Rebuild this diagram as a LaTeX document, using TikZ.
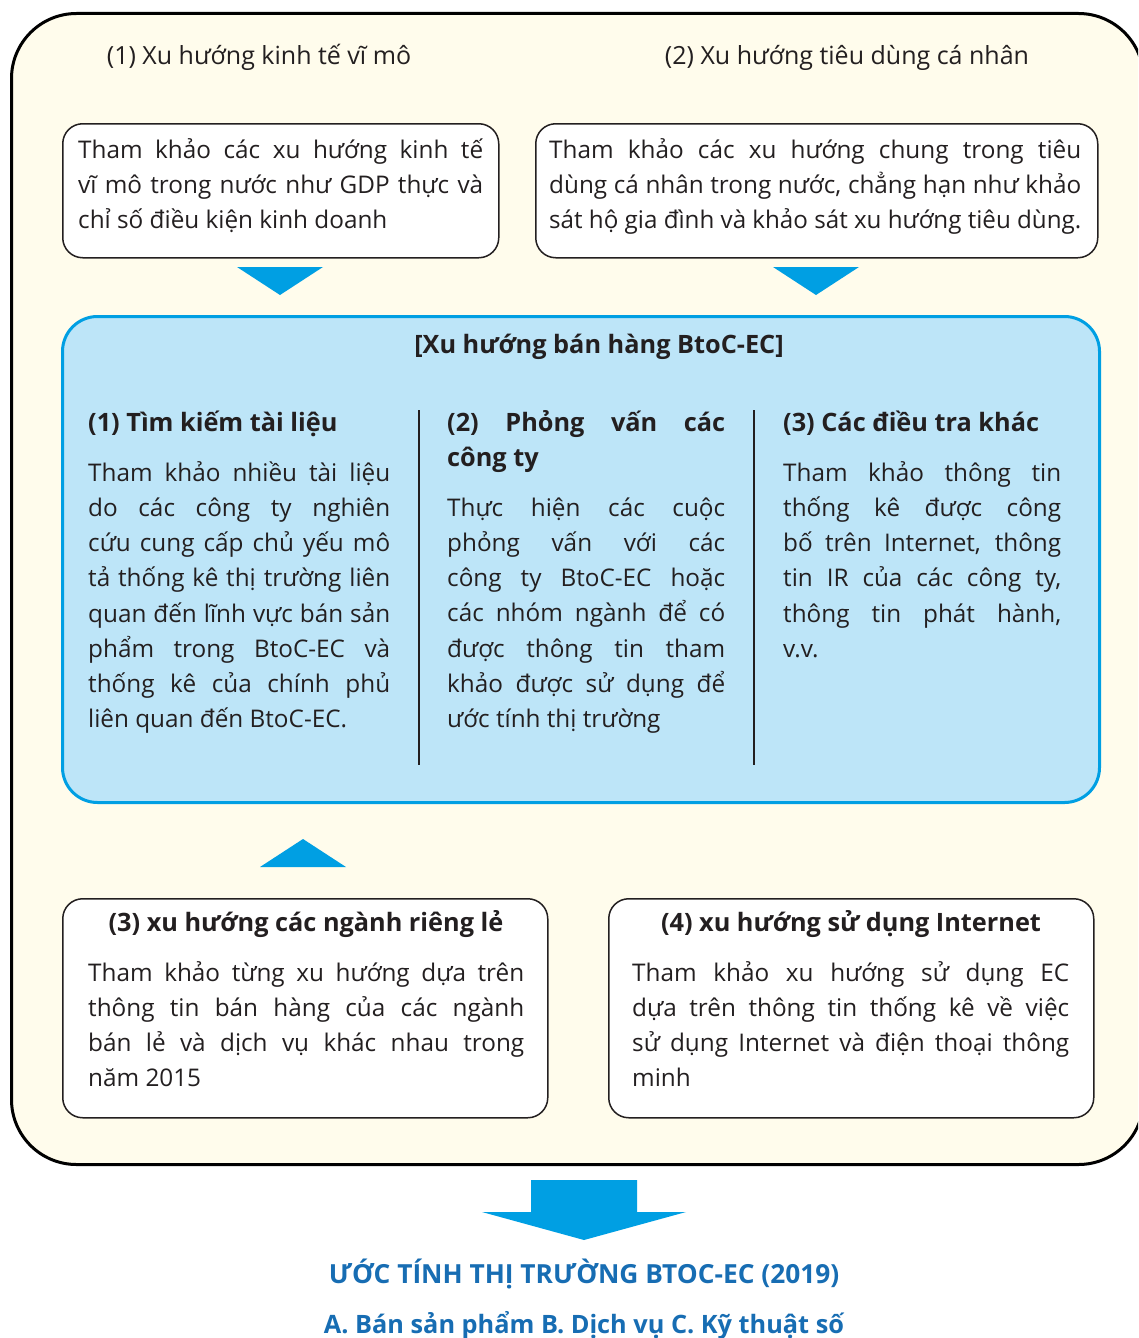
\documentclass[tikz,border=0pt]{standalone}
\usepackage{graphicx}
\usepackage{fontspec}
\setmainfont{Open Sans}
\definecolor{bgY}{HTML}{FFFCEC}
\definecolor{boxBlue}{HTML}{BDE5F8}
\definecolor{lineBlue}{HTML}{009FE3}
\definecolor{titleBlue}{HTML}{176DB3}
\definecolor{ink}{HTML}{231F20}
% justified line: stretched to the width, squeezed if too long
\newcommand\jline[1]{\setbox0\hbox{#1}%
  \ifdim\wd0>\hsize \hbox to\hsize{\resizebox{\hsize}{\height}{\box0}}%
  \else \hbox to\hsize{#1}\fi}
% last line: natural width, squeezed if too long
\newcommand\lline[1]{\setbox0\hbox{#1}%
  \ifdim\wd0>\hsize \hbox to\hsize{\resizebox{\hsize}{\height}{\box0}}%
  \else \hbox to\hsize{#1\hfil}\fi}
\newcommand\para[2]{\vtop{\hsize=#1pt\relax #2}}
\newcommand\bodyfnt{\fontsize{24.3}{35.25}\selectfont}
\newcommand\headfnt{\fontsize{25.3}{35.25}\selectfont\bfseries}
\begin{document}
\begin{tikzpicture}[x=1pt,y=-1pt,
  whitebox/.style={draw=ink, line width=1.5pt, fill=white, rounded corners=20pt, inner sep=0pt, anchor=north west},
  bluebox/.style={draw=lineBlue, line width=3pt, fill=boxBlue, rounded corners=35pt, inner sep=0pt, anchor=north west},
  outerbox/.style={draw=black, line width=3pt, fill=bgY, rounded corners=65pt, inner sep=0pt, anchor=north west},
  body/.style={font=\bodyfnt, text=ink, inner sep=0pt, anchor=base west},
  label/.style={font=\fontsize{25}{30}\selectfont, text=ink, inner sep=0pt, anchor=base},
  head/.style={font=\headfnt, text=ink, inner sep=0pt},
  tri/.style={fill=lineBlue, draw=none},
  divider/.style={draw=ink, line width=1.5pt},
  final/.style={text=titleBlue, inner sep=0pt, anchor=base}
]
\useasboundingbox (0,0) rectangle (1138,1338);
\clip (0,0) rectangle (1138,1338);
\fill[white] (0,0) rectangle (1138,1338);

% outer frame
\node[outerbox, minimum width=1132pt, minimum height=1151pt] (outer) at (10,12) {};

% headers
\node[label] (h1) at (259,64) {(1) Xu hướng kinh tế vĩ mô};
\node[label] (h2) at (847,64) {(2) Xu hướng tiêu dùng cá nhân};

% top boxes
\node[whitebox, minimum width=436pt, minimum height=134pt] (boxA) at (62,123) {};
\node[whitebox, minimum width=562pt, minimum height=134pt] (boxB) at (535,123) {};
\node[body] (tA) at (78,158) {\para{405}{%
\jline{Tham khảo các xu hướng kinh tế}%
\jline{vĩ mô trong nước như GDP thực và}%
\lline{chỉ số điều kiện kinh doanh}}};
\node[body] (tB) at (549,158) {\para{532}{%
\jline{Tham khảo các xu hướng chung trong tiêu}%
\jline{dùng cá nhân trong nước, chẳng hạn như khảo}%
\lline{sát hộ gia đình và khảo sát xu hướng tiêu dùng.}}};

% down triangles
\fill[tri] (237,267) -- (323,267) -- (280,295) -- cycle;
\fill[tri] (773,267) -- (859,267) -- (816,295) -- cycle;

% blue box
\node[bluebox, minimum width=1037pt, minimum height=486pt] (blue) at (61,315) {};
\node[head, anchor=base] (btitle) at (599,353) {[Xu hướng bán hàng BtoC-EC]};

\draw[divider] (419,410) -- (419,765);
\draw[divider] (754,410) -- (754,765);

\node[head, anchor=base west] (c1h) at (88,431) {(1) Tìm kiếm tài liệu};
\node[body] (c1) at (88,481) {\para{302}{%
\jline{Tham khảo nhiều tài liệu}%
\jline{do các công ty nghiên}%
\jline{cứu cung cấp chủ yếu mô}%
\jline{tả thống kê thị trường liên}%
\jline{quan đến lĩnh vực bán sản}%
\jline{phẩm trong BtoC-EC và}%
\jline{thống kê của chính phủ}%
\lline{liên quan đến BtoC-EC.}}};

\node[head, anchor=base west] (c2h) at (447,431) {\para{278}{%
\jline{(2) Phỏng vấn các}%
\lline{công ty}}};
\node[body] (c2) at (447,516) {\para{278}{%
\jline{Thực hiện các cuộc}%
\jline{phỏng vấn với các}%
\jline{công ty BtoC-EC hoặc}%
\jline{các nhóm ngành để có}%
\jline{được thông tin tham}%
\jline{khảo được sử dụng để}%
\lline{ước tính thị trường}}};

\node[head, anchor=base west] (c3h) at (783,431) {(3) Các điều tra khác};
\node[body] (c3) at (783,481) {\para{278}{%
\jline{Tham khảo thông tin}%
\jline{thống kê được công}%
\jline{bố trên Internet, thông}%
\jline{tin IR của các công ty,}%
\jline{thông tin phát hành,}%
\lline{v.v.}}};

% up triangle
\fill[tri] (260,867) -- (346,867) -- (303,839) -- cycle;

% bottom boxes
\node[whitebox, minimum width=485pt, minimum height=219pt] (boxC) at (62,898) {};
\node[whitebox, minimum width=485pt, minimum height=219pt] (boxD) at (608,898) {};
\node[head, anchor=base] (cHead) at (306,931) {(3) xu hướng các ngành riêng lẻ};
\node[head, anchor=base] (dHead) at (851,931) {(4) xu hướng sử dụng Internet};
\node[body] (tC) at (88,981) {\para{436}{%
\jline{Tham khảo từng xu hướng dựa trên}%
\jline{thông tin bán hàng của các ngành}%
\jline{bán lẻ và dịch vụ khác nhau trong}%
\lline{năm 2015}}};
\node[body] (tD) at (632,981) {\para{437}{%
\jline{Tham khảo xu hướng sử dụng EC}%
\jline{dựa trên thông tin thống kê về việc}%
\jline{sử dụng Internet và điện thoại thông}%
\lline{minh}}};

% big arrow
\fill[tri] (531,1180) -- (637,1180) -- (637,1212) -- (686,1212) -- (584,1240) -- (482,1212) -- (531,1212) -- cycle;

\node[final, font=\fontsize{26.3}{30}\selectfont\bfseries] (f1) at (584,1283) {ƯỚC TÍNH THỊ TRƯỜNG BTOC-EC (2019)};
\node[final, font=\fontsize{25.3}{30}\selectfont\bfseries] (f2) at (584,1333) {A. Bán sản phẩm B. Dịch vụ C. Kỹ thuật số};
\end{tikzpicture}
\end{document}
